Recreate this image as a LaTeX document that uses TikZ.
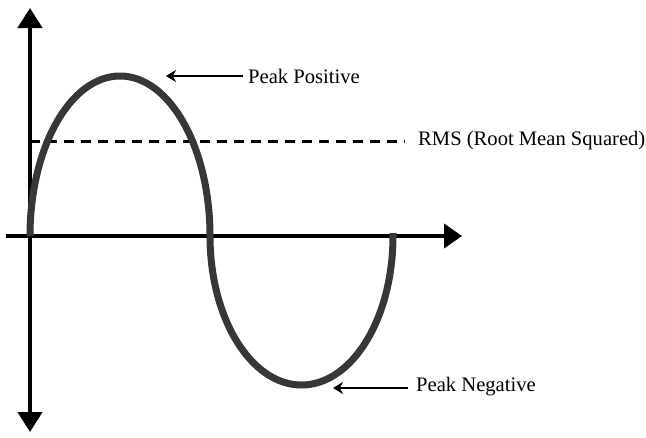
\documentclass[tikz,border=0pt]{standalone}
\usepackage{fontspec}
\setmainfont{Liberation Serif}
\usetikzlibrary{arrows.meta}
\begin{document}
\begin{tikzpicture}[x=1pt,y=-1pt,
  axis/.style={line width=4.5pt,-{Triangle[length=20pt,width=24pt]}},
  wave/.style={line width=7pt,draw={rgb,255:red,55;green,55;blue,55}},
  rms/.style={line width=3pt,dash pattern=on 10pt off 7pt},
  pointer/.style={line width=1.5pt,-{Stealth[length=10pt,width=12pt]}},
  lbl/.style={font=\fontsize{20.6}{24}\selectfont,anchor=west,inner sep=0pt}]
\useasboundingbox (0,0) rectangle (646,437);
\coordinate (O) at (30,236);
\coordinate (top) at (30,8);
\coordinate (bot) at (30,432);
\coordinate (left) at (6,236);
\coordinate (right) at (462,236);
\draw[axis] (O) -- (top);
\draw[axis] (O) -- (bot);
\draw[line width=4pt,-{Triangle[length=18pt,width=24pt]}] (left) -- (right);
\coordinate (rmsA) at (30,141);
\coordinate (rmsB) at (405,141);
\draw[rms] (rmsA) -- (rmsB);
\draw[wave,line cap=butt] (O) arc[start angle=180,end angle=0,x radius=90,y radius=-160]
  arc[start angle=180,end angle=360,x radius=91.5,y radius=-149] -- ++(0,-3);
\node[lbl] (pp) at (248,76) {Peak Positive};
\node[lbl] (rmsl) at (418,141) {RMS (Root Mean Squared)};
\node[lbl] (pn) at (416,387) {Peak Negative};
\coordinate (ppt) at (166,76);
\coordinate (pnt) at (333,388);
\draw[pointer] ([xshift=-5pt]pp.west) -- (ppt);
\draw[pointer] ([xshift=-8pt]pn.west |- pnt) -- (pnt);
\end{tikzpicture}
\end{document}
